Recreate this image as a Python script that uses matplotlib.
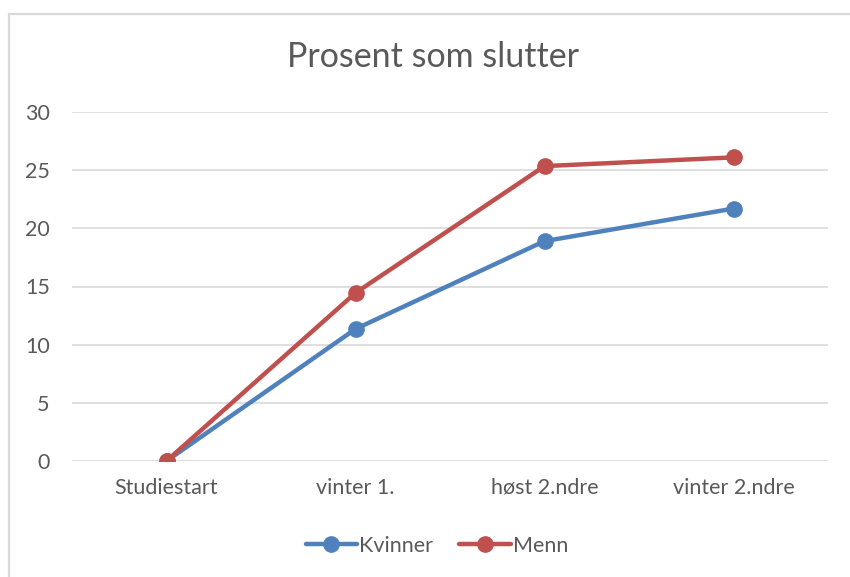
import matplotlib.pyplot as plt
from matplotlib.patches import Rectangle

categories = ['Studiestart', 'vinter 1.', 'høst 2.ndre', 'vinter 2.ndre']
kvinner = [0, 11.35, 18.9, 21.7]
menn = [0, 14.45, 25.35, 26.1]
yticks = [0, 5, 10, 15, 20, 25, 30]

text_color = '#595959'
grid_color = '#d9d9d9'
plt.rcParams['font.family'] = ['Lato', 'DejaVu Sans']

fig = plt.figure(figsize=(8.5, 5.77), dpi=100)
# chart border (left and top edges visible)
fig.patches.append(Rectangle((8.5 / 850, -0.1), 1.2, 1 - 13.5 / 577 + 0.1,
                             transform=fig.transFigure, fill=False,
                             edgecolor=grid_color, linewidth=1.6))

ax = fig.add_axes([72 / 850, 1 - 461 / 577, (828 - 72) / 850, (461 - 112) / 577])
x = range(len(categories))
ax.plot(x, kvinner, color='#4f81bd', linewidth=3.2, marker='o', markersize=11,
        label='Kvinner', solid_capstyle='round', zorder=3)
ax.plot(x, menn, color='#c0504d', linewidth=3.2, marker='o', markersize=11,
        label='Menn', solid_capstyle='round', zorder=4)

ax.set_xlim(-0.5, len(categories) - 0.5)
ax.set_ylim(0, 30)
ax.set_yticks(yticks)
ax.set_xticks(list(x))
ax.set_xticklabels(categories)
ax.grid(axis='y', color=grid_color, linewidth=1.2)
ax.set_axisbelow(True)
for s in ax.spines.values():
    s.set_visible(False)
ax.tick_params(length=0, labelsize=15.5, colors=text_color)
ax.tick_params(axis='y', pad=16)
ax.tick_params(axis='x', pad=12)

fig.text(433 / 850, 1 - 57 / 577, 'Prosent som slutter', ha='center', va='center',
         fontsize=24.5, color=text_color)
fig.legend(loc='center', bbox_to_anchor=(437 / 850, 1 - 546 / 577), ncol=2,
           frameon=False, fontsize=15.5, labelcolor=text_color, handlelength=2.4,
           handletextpad=0.1, columnspacing=1.2)

fig.savefig('out.png', dpi=100)
